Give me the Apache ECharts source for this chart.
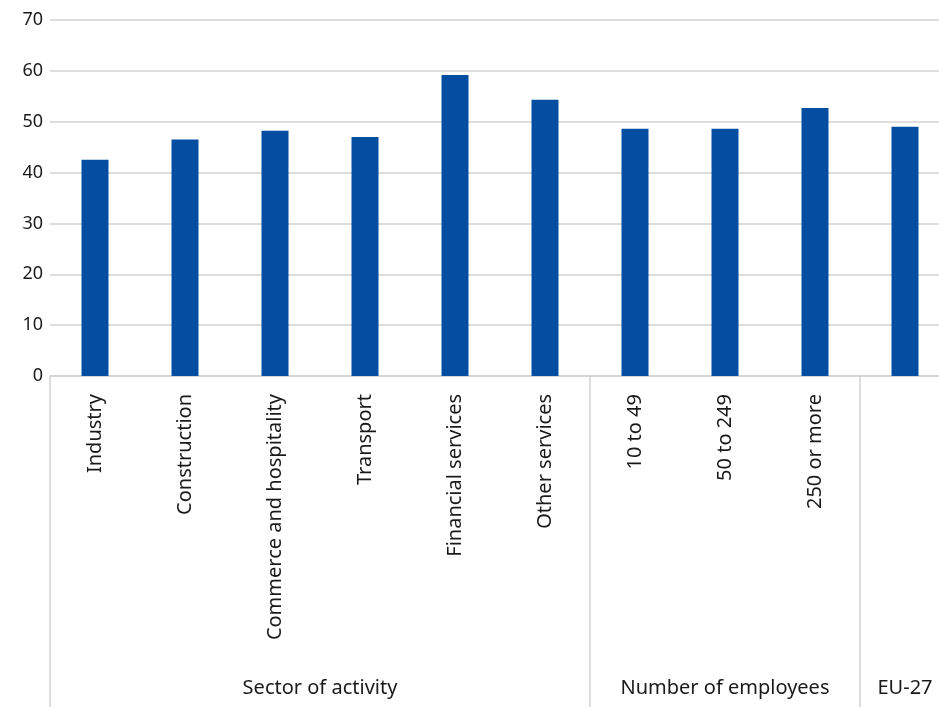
<!DOCTYPE html>
<html>
<head>
<meta charset="utf-8">
<script src="https://cdn.jsdelivr.net/npm/echarts@6/dist/echarts.min.js"></script>
<style>html,body{margin:0;padding:0;background:#fff;overflow:hidden}#c{width:950px;height:707px}</style>
</head>
<body>
<div id="c"></div>
<script>
const categories = ['Industry','Construction','Commerce and hospitality','Transport','Financial services','Other services','10 to 49','50 to 249','250 or more',''];
const values = [42.5, 46.5, 48.2, 47.0, 59.2, 54.3, 48.6, 48.6, 52.7, 49.0];
const groupNames = ['Sector of activity','Number of employees','EU-27'];
const groupSizes = [6, 3, 1];
const yTicks = [0, 10, 20, 30, 40, 50, 60, 70];

const bounds = [0];
groupSizes.forEach(s => bounds.push(bounds[bounds.length - 1] + s));
const mids = groupSizes.map((s, i) => bounds[i] + s / 2);

const FONT = 'Noto Sans';
const TXT = '#1a1a1a';
const GRID = '#d2d2d2';

const chart = echarts.init(document.getElementById('c'), null, {renderer: 'canvas'});
chart.setOption({
  animation: false,
  textStyle: {fontFamily: FONT},
  grid: {left: 50, right: 0, top: 20, bottom: 331, containLabel: false},
  xAxis: [{
    type: 'category',
    data: categories,
    axisLine: {show: true, lineStyle: {color: GRID, width: 1.5}},
    axisTick: {show: false},
    axisLabel: {rotate: 90, interval: 0, margin: 18, fontSize: 20, color: TXT, fontFamily: FONT}
  }, {
    type: 'value',
    min: 0,
    max: bounds[bounds.length - 1],
    position: 'bottom',
    axisLine: {show: false},
    splitLine: {show: false},
    axisTick: {show: true, customValues: bounds, length: 331, lineStyle: {color: GRID, width: 1.5}},
    axisLabel: {
      customValues: mids, margin: 302, fontSize: 20, color: TXT, fontFamily: FONT,
      formatter: v => groupNames[mids.indexOf(v)] || ''
    }
  }],
  yAxis: {
    type: 'value',
    min: yTicks[0],
    max: yTicks[yTicks.length - 1],
    interval: 10,
    axisLine: {show: false},
    axisTick: {show: false},
    splitLine: {lineStyle: {color: GRID, width: 1.5}},
    axisLabel: {fontSize: 18, color: TXT, margin: 7, fontFamily: FONT}
  },
  series: [{
    type: 'bar',
    xAxisIndex: 0,
    data: values,
    barWidth: '30%',
    itemStyle: {color: '#044ea2'}
  }]
});
</script>
</body>
</html>
